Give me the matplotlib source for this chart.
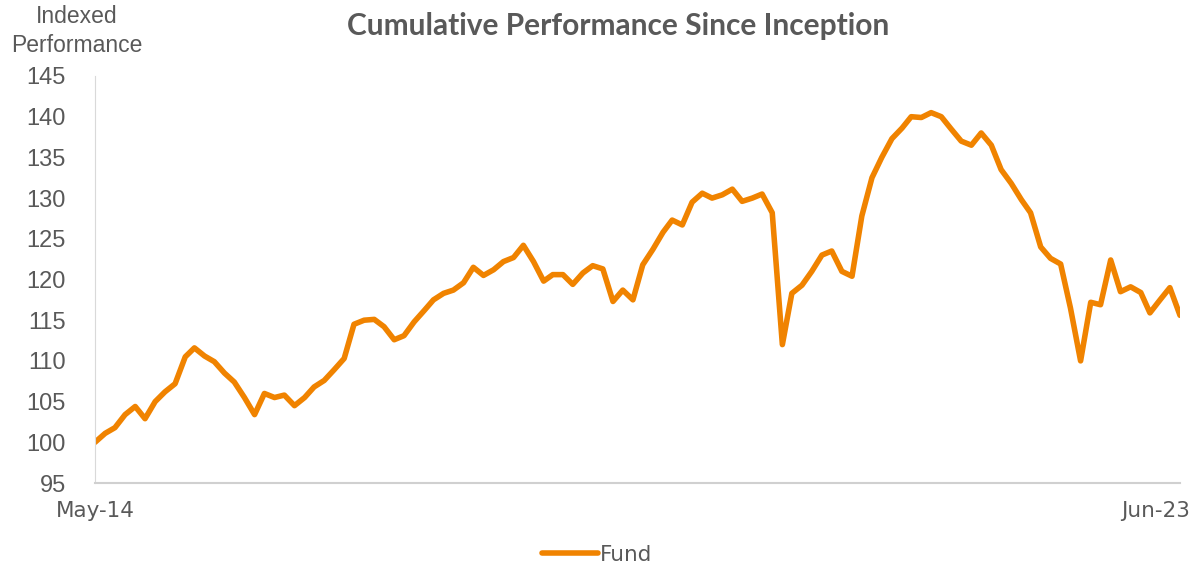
import pandas as pd
import matplotlib.pyplot as plt
import matplotlib.transforms as mtransforms

# monthly indexed performance, May-14 .. Jun-23
months = pd.date_range("2014-05-01", periods=110, freq="MS")
fund = [
    100.0, 101.1, 101.8, 103.4, 104.4, 102.9, 105.0, 106.2, 107.2, 110.5,
    111.6, 110.6, 109.9, 108.5, 107.4, 105.5, 103.4, 106.0, 105.5, 105.8,
    104.5, 105.5, 106.8, 107.6, 108.9, 110.3, 114.5, 115.0, 115.1, 114.2,
    112.6, 113.1, 114.8, 116.2, 117.5, 118.3, 118.7, 119.6, 121.5, 120.5,
    121.2, 122.2, 122.7, 124.2, 122.2, 119.8, 120.6, 120.6, 119.4, 120.8,
    121.7, 121.3, 117.3, 118.7, 117.5, 121.8, 123.7, 125.8, 127.3, 126.7,
    129.5, 130.6, 130.0, 130.4, 131.1, 129.6, 130.0, 130.5, 128.2, 112.0,
    118.3, 119.3, 121.0, 123.0, 123.5, 121.0, 120.4, 127.8, 132.5, 135.0,
    137.3, 138.6, 140.0, 139.9, 140.5, 140.0, 138.5, 137.0, 136.5, 138.0,
    136.5, 133.5, 131.8, 129.8, 128.2, 124.0, 122.6, 121.9, 116.5, 110.0,
    117.2, 116.9, 122.4, 118.5, 119.1, 118.4, 115.9, 117.5, 119.0, 115.6,
]
yticks = [95, 100, 105, 110, 115, 120, 125, 130, 135, 140, 145]
xlabels = ["May-14", "Jun-23"]

grey = "#595959"
orange = "#F08300"

fig = plt.figure(figsize=(11.93, 5.66), dpi=100)
ax = fig.add_axes([95 / 1193, 1 - 483 / 566, (1180 - 95) / 1193, (483 - 76) / 566])

ax.plot(months, fund, color=orange, lw=4, solid_joinstyle="round",
        solid_capstyle="round", label="Fund")

ax.set_xlim(months[0], months[-1])
ax.set_ylim(95, 145)
ax.set_yticks(yticks)
ax.set_yticklabels([str(v) for v in yticks], fontsize=17, color=grey,
                   family="Liberation Sans")
ax.set_xticks([months[0], months[-1]])
ax.set_xticklabels(xlabels, fontsize=15.5, color=grey, family="Liberation Sans Narrow")
ax.tick_params(axis="y", length=0, pad=21)
ax.tick_params(axis="x", length=0, pad=13)

# last date label sits right-aligned past the axis end, like Excel does
lab = ax.get_xticklabels()[-1]
lab.set_horizontalalignment("right")
lab.set_transform(lab.get_transform() + mtransforms.ScaledTranslation(10 / 100, 0, fig.dpi_scale_trans))

for s in ["top", "right"]:
    ax.spines[s].set_visible(False)
ax.spines["left"].set_color("#d9d9d9")
ax.spines["bottom"].set_color("#d0d0d0")
ax.spines["bottom"].set_linewidth(1.5)

fig.text(618 / 1193, 1 - 26 / 566, "Cumulative Performance Since Inception",
         ha="center", va="center", fontsize=21.5, fontweight="bold", color=grey,
         family="Lato")
fig.text(77 / 1193, 1 - 31 / 566, "Indexed\nPerformance", ha="center", va="center",
         fontsize=16.5, color=grey, family="Liberation Sans", linespacing=1.3)

leg = fig.legend(loc="center", bbox_to_anchor=(597 / 1193, 1 - 555 / 566), frameon=False,
                 handlelength=2.6, handletextpad=0.1,
                 prop={"family": "Liberation Sans Narrow", "size": 15.5})
for t in leg.get_texts():
    t.set_color(grey)

fig.savefig("out.png", dpi=100)
